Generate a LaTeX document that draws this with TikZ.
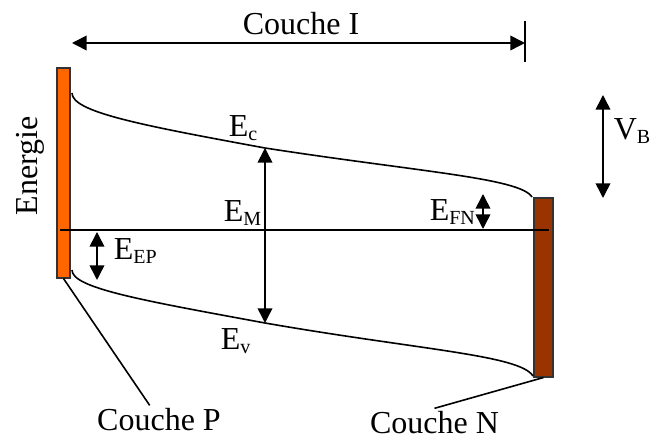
\documentclass[tikz,border=0pt]{standalone}
\usepackage{fontspec}
\setmainfont{Liberation Serif}
\usetikzlibrary{arrows.meta}
\definecolor{orangeP}{RGB}{255,102,0}
\definecolor{brownN}{RGB}{153,51,0}
\newcommand\sbs[1]{\raisebox{-2.4pt}{\fontsize{15}{15}\selectfont #1}}

\begin{document}
\begin{tikzpicture}[x=0.75pt,y=-0.75pt,line width=1.2pt,
  every node/.style={font=\fontsize{24}{28}\selectfont},
  dbl/.style={{Triangle[length=11pt,width=11pt]}-{Triangle[length=11pt,width=11pt]}},
  bar/.style={draw=black!80,line width=0.8pt,inner sep=0,minimum width=#1},
  lbl/.style={inner sep=0,anchor=base west},
  couche/.style={inner sep=2pt,anchor=base}]
  \useasboundingbox (0,0) rectangle (651,441);

  % contacts P and N
  \node[bar=9.75pt,fill=orangeP,minimum height=157.5pt] (barP) at (63.5,173) {};
  \node[bar=14.25pt,fill=brownN,minimum height=134.25pt] (barN) at (543.5,287.5) {};

  % width of layer I
  \coordinate (iL) at (72,43);
  \coordinate (iR) at (525,43);
  \draw[dbl] (iL) -- (iR);
  \draw (525,21) -- (525,62);
  \node[couche] (couI) at (301,35) {Couche I};

  % Fermi level
  \draw (60,230) -- (549,230);

  % band edges
  \draw (72,93) .. controls (72,112) and (140,125) .. (265,148)
        .. controls (420,172) and (520,178) .. (532,197);
  \draw (72,270) .. controls (72,288) and (140,300) .. (265,323)
        .. controls (420,350) and (520,355) .. (533,376);

  % gaps
  \coordinate (mT) at (265,148);
  \coordinate (mB) at (265,323);
  \draw[dbl] (mT) -- (mB);
  \coordinate (fT) at (483,194);
  \coordinate (fB) at (483,229);
  \draw[dbl] (fT) -- (fB);
  \coordinate (pT) at (97,232);
  \coordinate (pB) at (97,280);
  \draw[dbl] (pT) -- (pB);
  \coordinate (vT) at (603,95);
  \coordinate (vB) at (603,198);
  \draw[dbl] (vT) -- (vB);

  % labels
  \node[lbl] (ec) at (228,137) {E\sbs{c}};
  \node[lbl] (em) at (223,222) {E\sbs{M}};
  \node[lbl] (efn) at (429,221) {E\sbs{FN}};
  \node[lbl] (eep) at (113,260) {E\sbs{EP}};
  \node[lbl] (ev) at (220,350) {E\sbs{v}};
  \node[lbl] (vb) at (613,140) {V\sbs{B}};
  \node[rotate=90,anchor=base,inner sep=0] (en) at (37,166) {Energie};

  \node[couche] (couP) at (159,431) {Couche P};
  \node[couche] (couN) at (434.5,434) {Couche N};
  \draw (barP.south) -- ([xshift=-7pt]couP.north);
  \draw (barN.south) -- (couN.north);
\end{tikzpicture}
\end{document}
